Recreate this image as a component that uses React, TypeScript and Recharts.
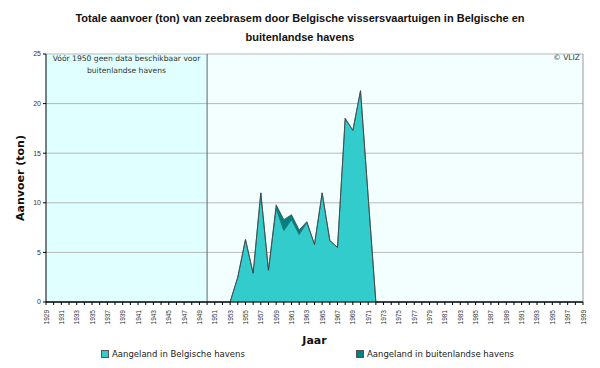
import { Area, AreaChart, CartesianGrid, ReferenceArea, ReferenceLine, XAxis, YAxis } from "recharts"

// jaren 1929 - 1999
const years = Array.from({ length: 71 }, (_, i) => 1929 + i)

// aanvoer in ton, 1953 - 1972 (rest = 0)
const dataYears = [1953, 1954, 1955, 1956, 1957, 1958, 1959, 1960, 1961, 1962, 1963, 1964, 1965, 1966, 1967, 1968, 1969, 1970, 1971, 1972]
const belgischeHavens = [0, 2.5, 6.3, 2.9, 11.0, 3.2, 9.4, 7.2, 8.3, 6.8, 8.0, 5.8, 11.0, 6.2, 5.5, 18.5, 17.3, 21.3, 10.6, 0]
const buitenlandseHavens = [0, 0, 0, 0, 0, 0, 0.4, 1.1, 0.5, 0.45, 0.1, 0, 0, 0, 0, 0, 0, 0, 0, 0]

const yTicks = [0, 5, 10, 15, 20, 25]

const LIGHT = "#33CCCC"
const DARK = "#008080"
const FONT = "'DejaVu Sans', Verdana, sans-serif"
const SMALL = "'Liberation Sans', Arial, sans-serif"

const data = years.map((y) => {
  const i = dataYears.indexOf(y)
  return {
    jaar: y,
    belg: i >= 0 ? belgischeHavens[i] : 0,
    buit: i >= 0 ? buitenlandseHavens[i] : 0,
  }
})

const XTick = (props: any) => {
  const { x, y, payload } = props
  if ((payload.value - 1929) % 2 !== 0) return null
  return (
    <text
      x={x + 2.5}
      y={y + 3}
      transform={`rotate(-90, ${x + 2.5}, ${y + 3})`}
      textAnchor="end"
      fontSize={6.5}
      fontFamily={SMALL}
      fill="#333"
    >
      {payload.value}
    </text>
  )
}

const legendItem = (left: number, color: string, text: string) => (
  <div style={{ position: "absolute", left, top: 349, display: "flex", alignItems: "center", fontFamily: FONT, fontSize: 8.5, color: "#222" }}>
    <span style={{ width: 6, height: 6, background: color, border: "1px solid #555", marginRight: 3 }} />
    {text}
  </div>
)

export default function App() {
  return (
    <div style={{ position: "absolute", left: 0, top: 0, width: 600, height: 368, background: "#fff" }}>
      <div
        style={{
          position: "absolute",
          left: 0,
          top: 9,
          width: 600,
          textAlign: "center",
          fontFamily: SMALL,
          fontWeight: "bold",
          fontSize: 11,
          lineHeight: "19px",
          color: "#111",
        }}
      >
        Totale aanvoer (ton) van zeebrasem door Belgische vissersvaartuigen in Belgische en
        <br />
        buitenlandse havens
      </div>
      <AreaChart width={600} height={368} data={data} margin={{ top: 54, right: 17, bottom: 36, left: 20 }}>
        <ReferenceArea x1={1929} x2={1950} y1={0} y2={25} fill="#E0FFFF" fillOpacity={1} stroke="none" zIndex={-200} />
        <ReferenceArea x1={1950} x2={1999} y1={0} y2={25} fill="#F3FFFF" fillOpacity={1} stroke="none" zIndex={-200} />
        <CartesianGrid vertical={false} stroke="#B8B8B8" />
        <ReferenceLine x={1950} stroke="#666" strokeWidth={1} />
        <ReferenceLine x={1999} stroke="#999" strokeWidth={1} />
        <XAxis
          dataKey="jaar"
          type="number"
          domain={[1929, 1999]}
          ticks={years}
          interval={0}
          tick={<XTick />}
          tickSize={3}
          tickLine={{ stroke: "#000" }}
          axisLine={{ stroke: "#000" }}
          height={30}
          label={{ value: "Jaar", position: "insideBottom", offset: -12, fontFamily: FONT, fontWeight: "bold", fontSize: 11, fill: "#111" }}
        />
        <YAxis
          domain={[0, 25]}
          ticks={yTicks}
          width={26}
          tickSize={3}
          tick={{ fontSize: 7, fontFamily: SMALL, fill: "#333" }}
          tickLine={{ stroke: "#000" }}
          axisLine={{ stroke: "#000" }}
          label={{ value: "Aanvoer (ton)", angle: -90, position: "insideLeft", offset: 0, fontFamily: FONT, fontWeight: "bold", fontSize: 11, fill: "#111", style: { textAnchor: "middle" } }}
        />
        <Area type="linear" dataKey="belg" stackId="a" fill={LIGHT} fillOpacity={1} stroke="#3a4a4a" strokeWidth={0.8} isAnimationActive={false} />
        <Area type="linear" dataKey="buit" stackId="a" fill={DARK} fillOpacity={1} stroke="#3a4a4a" strokeWidth={0.8} isAnimationActive={false} />
      </AreaChart>
      {legendItem(101, LIGHT, "Aangeland in Belgische havens")}
      {legendItem(356, DARK, "Aangeland in buitenlandse havens")}
      <div
        style={{
          position: "absolute",
          left: 46,
          top: 53,
          width: 161,
          textAlign: "center",
          fontFamily: FONT,
          fontSize: 7.6,
          lineHeight: "12px",
          color: "#333",
        }}
      >
        Vóór 1950 geen data beschikbaar voor
        <br />
        buitenlandse havens
      </div>
      <div style={{ position: "absolute", left: 530, top: 53, width: 50, textAlign: "right", fontFamily: FONT, fontSize: 7.6, color: "#333" }}>
        © VLIZ
      </div>
    </div>
  )
}
